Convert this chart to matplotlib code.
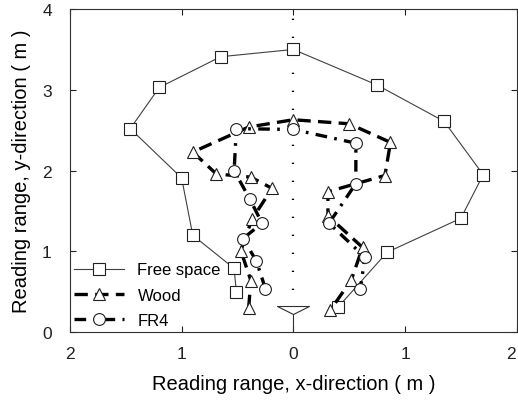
import matplotlib
matplotlib.use("Agg")
import matplotlib.pyplot as plt
import matplotlib.transforms as mtransforms
import numpy as np
from matplotlib.path import Path

plt.rcParams['font.family'] = ['Liberation Sans', 'DejaVu Sans']

# Free space
free_x = [-0.51, -0.53, -0.90, -1.00, -1.46, -1.20, -0.65, 0.00, 0.75, 1.35, 1.70, 1.50, 0.84, 0.40]
free_y = [0.50, 0.79, 1.20, 1.91, 2.52, 3.03, 3.41, 3.50, 3.06, 2.61, 1.95, 1.41, 0.99, 0.31]
# Wood
wood_x = [-0.40, -0.38, -0.47, -0.37, -0.19, -0.38, -0.69, -0.90, -0.40, 0.00, 0.50, 0.87, 0.82, 0.31, 0.31, 0.62, 0.52, 0.33]
wood_y = [0.30, 0.64, 1.01, 1.40, 1.78, 1.92, 1.96, 2.23, 2.54, 2.63, 2.58, 2.35, 1.94, 1.74, 1.44, 1.05, 0.65, 0.27]
# FR4
fr4_x = [-0.25, -0.33, -0.45, -0.28, -0.39, -0.53, -0.51, 0.00, 0.56, 0.56, 0.32, 0.64, 0.60]
fr4_y = [0.54, 0.88, 1.16, 1.35, 1.65, 2.00, 2.52, 2.51, 2.34, 1.84, 1.35, 0.93, 0.53]

x_ticks = [-2, -1, 0, 1, 2]
x_tick_labels = ['2', '1', '0', '1', '2']
y_ticks = [0, 1, 2, 3, 4]
y_tick_labels = ['0', '1', '2', '3', '4']
center_line_y = [0.3, 3.95]
antenna_x = [0.0]
antenna_y = [0.27]

fig = plt.figure(figsize=(5.18, 4.02), dpi=100)
ax = fig.add_axes([0.135, 0.171, 0.8625, 0.804])

ax.plot([0, 0], center_line_y, color='black', lw=1.6, dashes=(0.6, 7.5), zorder=1)

ax.plot(free_x, free_y, color='#404040', lw=0.8, marker='s', ms=8.5,
        mfc='white', mec='#202020', mew=0.8, label='Free space', zorder=2)
ax.plot(wood_x, wood_y, color='black', lw=2.4, dashes=(4, 2.2), marker='^', ms=9,
        mfc='white', mec='#202020', mew=0.8, label='Wood', zorder=3)
ax.plot(fr4_x, fr4_y, color='black', lw=2.4, dashes=(3.5, 2.2, 0.8, 2.2), marker='o', ms=8.5,
        mfc='white', mec='#202020', mew=0.8, label='FR4', zorder=4)

# antenna symbol
tri = Path([(-1.0, 0.25), (1.0, 0.25), (0.0, -0.25), (-1.0, 0.25)],
           [Path.MOVETO, Path.LINETO, Path.LINETO, Path.CLOSEPOLY])
ax.plot(antenna_x, antenna_y, marker=tri, ms=23, mfc='white', mec='#303030', mew=0.8,
        ls='none', zorder=5)
ax.vlines(antenna_x, 0, 0.22, color='#303030', lw=0.8, zorder=5)

ax.set_xlim(-2, 2)
ax.set_ylim(0, 4)
ax.set_xticks(x_ticks)
ax.set_xticklabels(x_tick_labels)
ax.set_yticks(y_ticks)
ax.set_yticklabels(y_tick_labels)
ax.tick_params(direction='in', length=4, width=0.8, top=True, right=True,
               labelsize=12.5, colors='#202020')
ax.tick_params(axis='x', pad=10)
ax.tick_params(axis='y', pad=13)
for s in ax.spines.values():
    s.set_linewidth(0.8)
    s.set_color('#303030')

# nudge the rightmost x tick label inside the figure
last = ax.get_xticklabels()[-1]
last.set_transform(last.get_transform() + mtransforms.ScaledTranslation(-6 / 100, 0, fig.dpi_scale_trans))

ax.set_xlabel('Reading range, x-direction ( m )', fontsize=14.5, labelpad=9)
ax.set_ylabel('Reading range, y-direction ( m )', fontsize=14.5, labelpad=8)

leg = ax.legend(loc='lower left', frameon=False, fontsize=12, handlelength=3.0,
                handletextpad=0.8, labelspacing=0.62, borderaxespad=0.05,
                borderpad=0.2)

fig.savefig('out.png', dpi=100)
